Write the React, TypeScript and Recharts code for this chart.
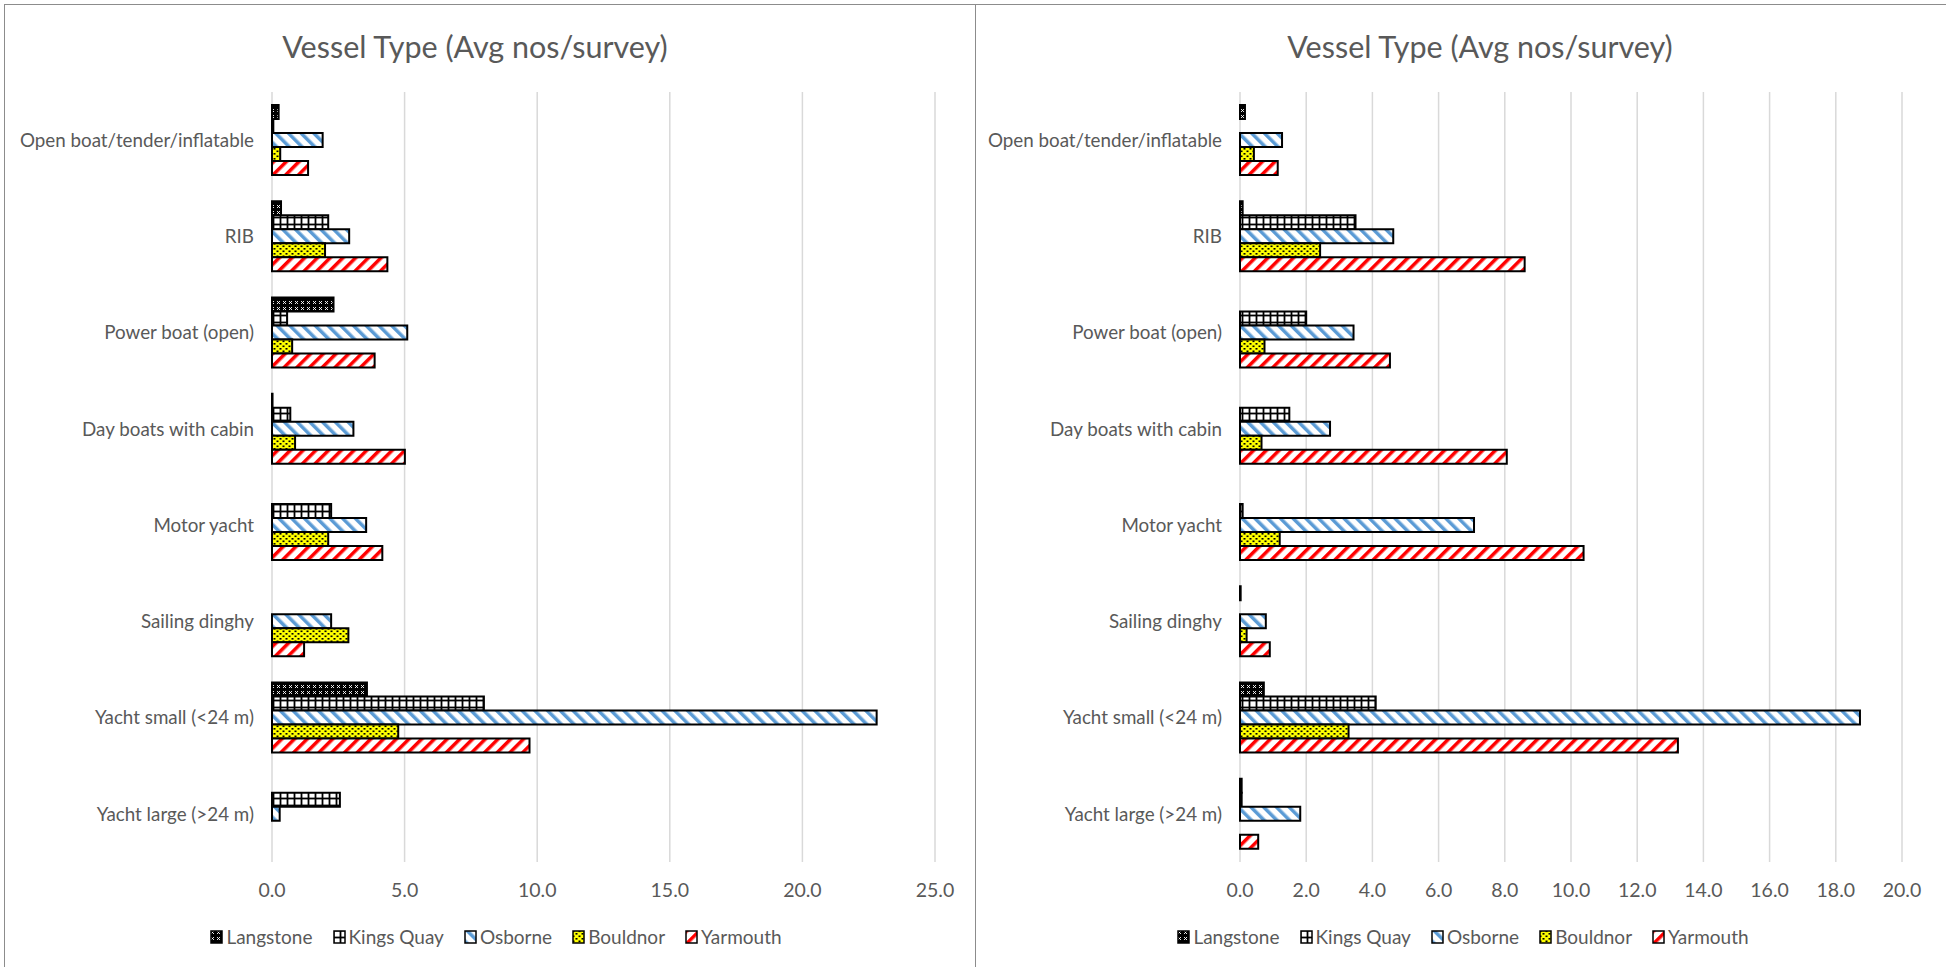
import { BarChart, Bar, XAxis, YAxis, CartesianGrid, Legend } from "recharts";

const categories = [
  "Open boat/tender/inflatable",
  "RIB",
  "Power boat (open)",
  "Day boats with cabin",
  "Motor yacht",
  "Sailing dinghy",
  "Yacht small (<24 m)",
  "Yacht large (>24 m)",
];

// left chart
const langstoneA = [0.25, 0.34, 2.32, 0.02, 0, 0, 3.58, 0];
const kingsQuayA = [0.05, 2.12, 0.57, 0.69, 2.23, 0, 7.99, 2.56];
const osborneA = [1.91, 2.91, 5.1, 3.07, 3.55, 2.23, 22.8, 0.29];
const bouldnorA = [0.31, 2.0, 0.76, 0.87, 2.12, 2.88, 4.76, 0];
const yarmouthA = [1.36, 4.35, 3.87, 5.01, 4.16, 1.21, 9.71, 0];
const ticksA = [0, 5, 10, 15, 20, 25];

// right chart
const langstoneB = [0.15, 0.08, 0, 0, 0, 0.02, 0.72, 0.05];
const kingsQuayB = [0, 3.49, 2.0, 1.49, 0.08, 0, 4.1, 0.05];
const osborneB = [1.27, 4.63, 3.43, 2.72, 7.07, 0.78, 18.73, 1.82];
const bouldnorB = [0.42, 2.42, 0.74, 0.65, 1.2, 0.2, 3.28, 0];
const yarmouthB = [1.14, 8.6, 4.53, 8.06, 10.38, 0.9, 13.23, 0.55];
const ticksB = [0, 2, 4, 6, 8, 10, 12, 14, 16, 18, 20];

const series = [
  { key: "langstone", name: "Langstone" },
  { key: "kingsQuay", name: "Kings Quay" },
  { key: "osborne", name: "Osborne" },
  { key: "bouldnor", name: "Bouldnor" },
  { key: "yarmouth", name: "Yarmouth" },
];

const FONT = "Lato, 'Liberation Sans', sans-serif";
const GREY = "#595959";

const makeRows = (l, k, o, b, y) =>
  categories.map((name, i) => ({
    name,
    langstone: l[i],
    kingsQuay: k[i],
    osborne: o[i],
    bouldnor: b[i],
    yarmouth: y[i],
  }));

const rowsA = makeRows(langstoneA, kingsQuayA, osborneA, bouldnorA, yarmouthA);
const rowsB = makeRows(langstoneB, kingsQuayB, osborneB, bouldnorB, yarmouthB);

function Patterns({ p }) {
  return (
    <defs>
      <pattern id={`${p}-langstone`} width="6" height="6" patternUnits="userSpaceOnUse">
        <rect width="6" height="6" fill="#000" />
        <path d="M1 1L4 4M4 1L1 4" stroke="#fff" strokeWidth="0.9" />
      </pattern>
      <pattern id={`${p}-kingsQuay`} width="7" height="7" patternUnits="userSpaceOnUse">
        <rect width="7" height="7" fill="#000" />
        <rect x="1.4" y="1.4" width="5.2" height="5.2" fill="#fff" />
      </pattern>
      <pattern id={`${p}-osborne`} width="9" height="9" patternUnits="userSpaceOnUse" patternTransform="rotate(-45)">
        <rect width="9" height="9" fill="#fff" />
        <rect width="3.5" height="9" fill="#5B9BD5" />
      </pattern>
      <pattern id={`${p}-bouldnor`} width="6" height="5" patternUnits="userSpaceOnUse">
        <rect width="6" height="5" fill="#FFFF00" />
        <rect x="0.5" y="0.5" width="2" height="1.6" fill="#000" />
        <rect x="3.5" y="3" width="2" height="1.6" fill="#000" />
      </pattern>
      <pattern id={`${p}-yarmouth`} width="9" height="9" patternUnits="userSpaceOnUse" patternTransform="rotate(45)">
        <rect width="9" height="9" fill="#fff" />
        <rect width="3.5" height="9" fill="#FF0000" />
      </pattern>
    </defs>
  );
}

function LegendRow({ p }) {
  return (
    <div style={{ display: "flex", justifyContent: "center", gap: 20, fontFamily: FONT, fontSize: 19, color: GREY }}>
      {series.map((s) => (
        <div key={s.key} style={{ display: "flex", alignItems: "center" }}>
          <svg width="13" height="14" style={{ marginRight: 3 }}>
            <rect x="1" y="1" width="11" height="12" fill={`url(#${p}-${s.key})`} stroke="#000" strokeWidth="1.5" />
          </svg>
          <span>{s.name}</span>
        </div>
      ))}
    </div>
  );
}

function VesselChart({ p, rows, ticks, max, width, yWidth, right, legendWidth }) {
  return (
    <BarChart
      layout="vertical"
      width={width}
      height={967}
      data={rows}
      margin={{ top: 92, right, bottom: 65, left: 0 }}
      barSize={14}
      barGap={0}
    >
      <Patterns p={p} />
      <CartesianGrid horizontal={false} stroke="#D9D9D9" strokeWidth={1.5} />
      <XAxis
        type="number"
        domain={[0, max]}
        ticks={ticks}
        height={40}
        axisLine={false}
        tickLine={false}
        tickSize={0}
        tickMargin={21}
        tickFormatter={(v) => v.toFixed(1)}
        tick={{ fill: GREY, fontSize: 19.5, fontFamily: FONT }}
      />
      <YAxis
        type="category"
        dataKey="name"
        width={yWidth}
        axisLine={false}
        tickLine={false}
        tickSize={0}
        tickMargin={18}
        interval={0}
        tick={{ fill: GREY, fontSize: 18.8, fontFamily: FONT }}
      />
      <Legend
        verticalAlign="middle"
        align="center"
        wrapperStyle={{ top: 925, left: 0, width: legendWidth }}
        content={() => <LegendRow p={p} />}
      />
      {series.map((s) => (
        <Bar
          key={s.key}
          dataKey={s.key}
          name={s.name}
          fill={`url(#${p}-${s.key})`}
          stroke="#000"
          strokeWidth={2}
          isAnimationActive={false}
        />
      ))}
    </BarChart>
  );
}

const titleStyle = {
  position: "absolute",
  top: 30,
  fontFamily: FONT,
  fontSize: 30.5,
  lineHeight: "32px",
  color: GREY,
  textAlign: "center",
};

export default function App() {
  return (
    <div style={{ position: "fixed", left: 0, top: 0, width: 1946, height: 967, overflow: "hidden", background: "#fff" }}>
      <div style={{ position: "absolute", left: 4, top: 4, width: 972, height: 980, border: "1px solid #8C8C8C", boxSizing: "border-box" }} />
      <div style={{ position: "absolute", left: 975, top: 4, width: 1000, height: 980, border: "1px solid #8C8C8C", boxSizing: "border-box" }} />
      <div style={{ ...titleStyle, left: 0, width: 950 }}>Vessel Type (Avg nos/survey)</div>
      <div style={{ ...titleStyle, left: 976, width: 1008 }}>Vessel Type (Avg nos/survey)</div>
      <div style={{ position: "absolute", left: 0, top: 0 }}>
        <VesselChart p="a" rows={rowsA} ticks={ticksA} max={25} width={976} yWidth={272} right={41} legendWidth={992} />
      </div>
      <div style={{ position: "absolute", left: 976, top: 0 }}>
        <VesselChart p="b" rows={rowsB} ticks={ticksB} max={20} width={970} yWidth={264} right={44} legendWidth={974} />
      </div>
    </div>
  );
}
